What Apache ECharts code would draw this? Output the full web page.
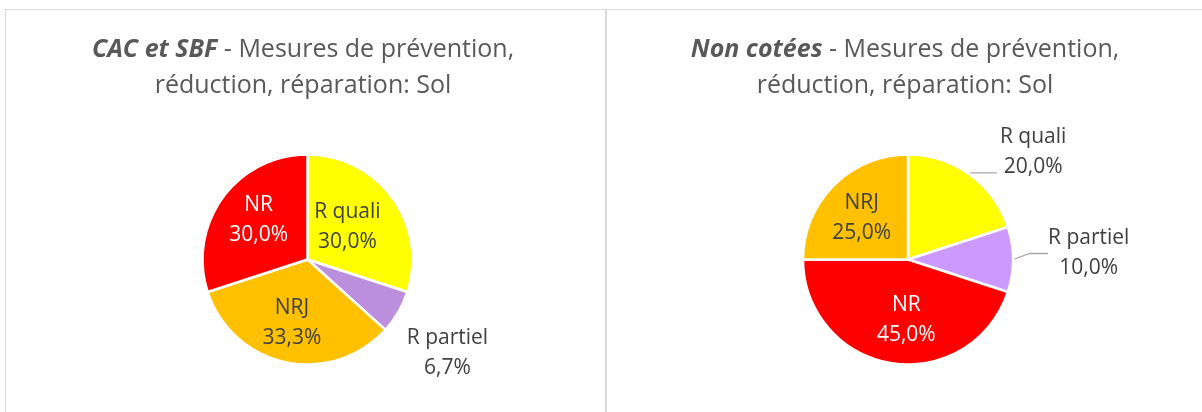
<!DOCTYPE html>
<html><head><meta charset="utf-8">
<script src="https://cdn.jsdelivr.net/npm/echarts@6/dist/echarts.min.js"></script>
<style>html,body{margin:0;padding:0;background:#fff}#c{width:1202px;height:412px}</style>
</head><body><div id="c"></div>
<script>
const leftNames = ['R quali', 'R partiel', 'NRJ', 'NR'];
const leftValues = [30.0, 6.7, 33.3, 30.0];
const rightNames = ['R quali', 'R partiel', 'NR', 'NRJ'];
const rightValues = [20.0, 10.0, 45.0, 25.0];
const colorMap = { 'R quali': '#FFFF00', 'NRJ': '#FFC000', 'NR': '#FF0000' };
const partielLeft = '#BB8FDD', partielRight = '#CC99FF';

const FONT = '"Open Sans", sans-serif';
const fmt = p => p.name + '\n' + p.value.toFixed(1).replace('.', ',') + '%';

// label line shapes per outside label [length, length2]
const lineShape = { 'R quali': [2, 26], 'R partiel': [12, 18] };

function buildData(names, values, partielColor, outsideSet, showLine) {
  return names.map((n, i) => {
    const d = { name: n, value: values[i], itemStyle: { color: n === 'R partiel' ? partielColor : colorMap[n] } };
    if (outsideSet.includes(n)) {
      d.label = { position: 'outside', color: '#404040' };
      d.labelLine = { show: showLine, length: lineShape[n][0], length2: lineShape[n][1] };
    } else {
      d.label = { position: 'inside', color: n === 'NR' ? '#FFFFFF' : '#404040' };
    }
    return d;
  });
}

const leftOffsets = { 'R quali': [-5, 0], 'R partiel': [-25, 35], 'NRJ': [-4, 9], 'NR': [-4, -7] };
const rightOffsets = { 'R quali': [-2, -21], 'R partiel': [0, -6], 'NR': [7, 6], 'NRJ': [-7, -2] };

function series(names, values, partielColor, cx, outsideSet, showLine, offsets, relinked) {
  return {
    type: 'pie', center: [cx, 259.5], radius: [0, 105], startAngle: 90, clockwise: true,
    avoidLabelOverlap: false,
    itemStyle: { borderColor: '#fff', borderWidth: 2.5 },
    label: { formatter: fmt, fontFamily: FONT, fontSize: 21, lineHeight: 30, align: 'center' },
    labelLine: { length: 12, length2: 18, lineStyle: { color: '#A6A6A6', width: 1.3 } },
    emphasis: { disabled: true },
    labelLayout: function (p) {
      const n = names[p.dataIndex];
      const o = offsets[n];
      if (relinked.includes(n)) {
        return {
          x: p.labelRect.x + p.labelRect.width / 2 + o[0],
          y: p.labelRect.y + p.labelRect.height / 2 + o[1],
          align: 'center', verticalAlign: 'middle'
        };
      }
      if (outsideSet.includes(n)) {
        return { dx: o[0] + p.labelRect.width / 2, dy: o[1], align: 'center' };
      }
      return { dx: o[0], dy: o[1] };
    },
    data: buildData(names, values, partielColor, outsideSet, showLine)
  };
}

const titleRich = {
  b: { fontFamily: FONT, fontSize: 25, fontWeight: 'bold', fontStyle: 'italic', color: '#595959', lineHeight: 36 },
  n: { fontFamily: FONT, fontSize: 25, fontWeight: 'normal', color: '#595959', lineHeight: 36 }
};

const chart = echarts.init(document.getElementById('c'), null, { renderer: 'canvas' });
chart.setOption({
  animation: false,
  backgroundColor: '#fff',
  title: [
    { text: '{b|CAC et SBF}{n| - Mesures de prévention,}\n{n|réduction, réparation: Sol}', left: 298, top: 27, textAlign: 'center', textStyle: { fontWeight: 'normal', rich: titleRich } },
    { text: '{b|Non cotées}{n| - Mesures de prévention,}\n{n|réduction, réparation: Sol}', left: 900, top: 27, textAlign: 'center', textStyle: { fontWeight: 'normal', rich: titleRich } }
  ],
  graphic: [
    { type: 'rect', shape: { x: 5.5, y: 9.5, width: 600, height: 420 }, style: { fill: 'none', stroke: '#D9D9D9', lineWidth: 1 }, silent: true },
    { type: 'rect', shape: { x: 606.5, y: 9.5, width: 620, height: 420 }, style: { fill: 'none', stroke: '#D9D9D9', lineWidth: 1 }, silent: true }
  ],
  series: [
    series(leftNames, leftValues, partielLeft, 307.5, ['R partiel'], false, leftOffsets, []),
    series(rightNames, rightValues, partielRight, 908, ['R quali', 'R partiel'], true, rightOffsets, ['R partiel'])
  ]
});
</script></body></html>
